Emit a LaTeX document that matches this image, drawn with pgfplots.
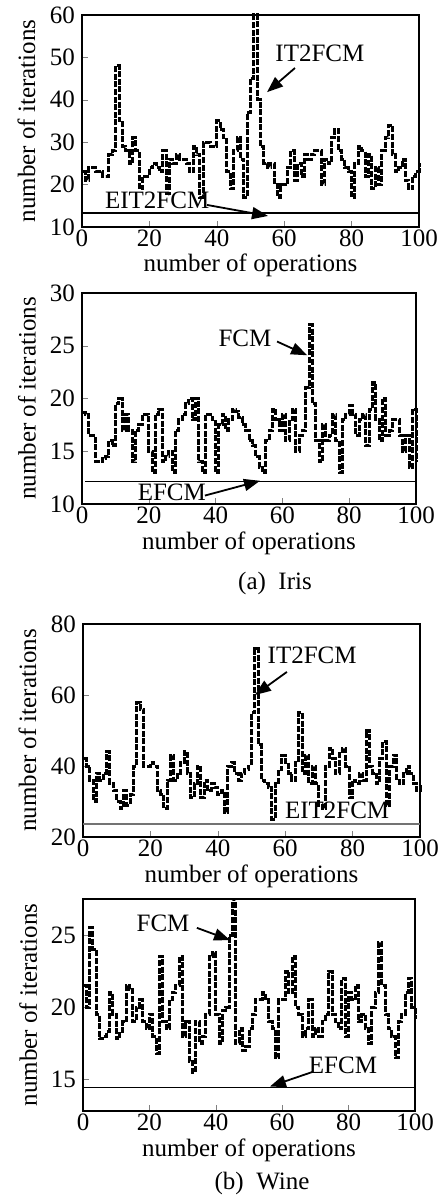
\documentclass[border=0pt]{standalone}
\usepackage{fontspec}
\setmainfont{Liberation Serif}
\usepackage{pgfplots}
\pgfplotsset{compat=1.18}
\usetikzlibrary{arrows.meta}

% iteration counts per run
\pgfplotstableread{
x y
0 23
1 21
2 24
3 24
4 23
5 23
6 22
7 22
8 27
9 28
10 48
11 35
12 29
13 28
14 25
15 31
16 28
17 19
18 22
19 22
20 24
21 25
22 24
23 23
24 28
25 18
26 26
27 25
28 27
29 26
30 26
31 25
32 23
33 29
34 27
35 17
36 30
37 30
38 29
39 29
40 35
41 33
42 31
43 23
44 19
45 28
46 31
47 26
48 17
49 37
50 45
51 60
52 40
53 29
54 25
55 24
56 25
57 20
58 17
59 20
60 20
61 24
62 28
63 21
64 25
65 22
66 27
67 26
68 27
69 28
70 28
71 20
72 26
73 25
74 31
75 33
76 28
77 26
78 24
79 23
80 17
81 25
82 29
83 28
84 22
85 27
86 19
87 24
88 20
89 28
90 31
91 34
92 27
93 23
94 24
95 26
96 21
97 19
98 22
99 23
100 25
}\irisit

\pgfplotstableread{
x y
0 18.7
1 18.5
2 16.5
3 16.5
4 14
5 14
6 14.3
7 14.5
8 16
9 15.5
10 19.5
11 20
12 17
13 18.5
14 17
15 14
16 17
17 17.5
18 18.5
19 18.5
20 15
21 13
22 18.5
23 19
24 14
25 14.5
26 15
27 13
28 17
29 18
30 18.5
31 19.5
32 20
33 18
34 20
35 14
36 13
37 18.5
38 18.5
39 18
40 13
41 17.5
42 18.5
43 17
44 18
45 19
46 18.8
47 18.2
48 17.5
49 17
50 16
51 15.5
52 14.5
53 13.5
54 13
55 16
56 17
57 19
58 18
59 17
60 18.5
61 16
62 18
63 19
64 15
65 16.5
66 17
67 21
68 27
69 19.5
70 16
71 14
72 17.5
73 16
74 16.5
75 18.5
76 16
77 13
78 18
79 18.5
80 19.3
81 18.5
82 16.5
83 18
84 18.5
85 15.5
86 19
87 21.5
88 18
89 16
90 20
91 16.5
92 17
93 18
94 18
95 16.5
96 15
97 16.5
98 13.5
99 19
100 14
}\irisfcm

\pgfplotstableread{
x y
0 42
1 40
2 36
3 30
4 38
5 36
6 38
7 44
8 35
9 33
10 30
11 28
12 33
13 29
14 32
15 40
16 58
17 56
18 40
19 40
20 41
21 40
22 33
23 32
24 28
25 36
26 43
27 36
28 38
29 41
30 44
31 38
32 31
33 35
34 40
35 31
36 36
37 33
38 35
39 34
40 32
41 33
42 27
43 40
44 41
45 38
46 36
47 38
48 39
49 40
50 55
51 73
52 46
53 36
54 35
55 34
56 25
57 35
58 39
59 43
60 41
61 38
62 36
63 41
64 55
65 38
66 43
67 35
68 40
69 35
70 29
71 28
72 40
73 45
74 42
75 38
76 44
77 45
78 40
79 31
80 36
81 35
82 38
83 36
84 50
85 40
86 38
87 35
88 42
89 47
90 29
91 40
92 43
93 36
94 35
95 38
96 40
97 38
98 35
99 33
100 35
}\wineit

\pgfplotstableread{
x y
0 21.5
1 20
2 25.5
3 24
4 19.5
5 17.8
6 18
7 18.3
8 21
9 19.5
10 17.8
11 18.3
12 19
13 21.5
14 21.2
15 19
16 20
17 20.5
18 19
19 18.5
20 19.5
21 18
22 16.8
23 23.5
24 19
25 18.5
26 20.5
27 21
28 21.5
29 23.5
30 18
31 19
32 16.2
33 15.5
34 19
35 17.5
36 18
37 19.5
38 23.5
39 23.8
40 19.5
41 17.5
42 19.8
43 20
44 25
45 27.5
46 17.5
47 18.5
48 17
49 17.3
50 18.5
51 19.5
52 20.5
53 20.5
54 21
55 20.5
56 19
57 18.5
58 16.5
59 20.5
60 20.5
61 22.5
62 21
63 23.5
64 20
65 19.5
66 18
67 18.5
68 20.5
69 18
70 18.5
71 18
72 19
73 19.5
74 22.5
75 19.5
76 19
77 18.5
78 22
79 18
80 21
81 20.5
82 21.5
83 19
84 19.5
85 18.5
86 17.5
87 20
88 21
89 24.5
90 21.5
91 19.5
92 18.5
93 18
94 16.5
95 19
96 19.5
97 21
98 22
99 20
100 19.2
}\winefcm

\pgfplotsset{
  panel/.style={
    scale only axis,
    anchor=north west,
    xmin=0, xmax=100,
    xtick={0,20,...,100},
    tick align=inside,
    tick pos=left,
    major tick length=3pt,
    axis line style={line width=0.9pt, black},
    font=\fontsize{12.5}{14}\selectfont,
    /pgf/number format/assume math mode=true,
    xticklabel style={inner sep=1pt},
    xlabel={number of operations},
    ylabel={number of iterations},
    xlabel style={at={(axis description cs:0.5,0)}, anchor=north, inner sep=0pt, yshift=-13.5pt},
    ylabel style={at={(axis description cs:-0.165,0.5)}, anchor=center, inner sep=0pt},
    clip=false,
  },
  runs/.style={const plot, black, line width=1.5pt, dash pattern=on 3pt off 0.8pt},
  base/.style={black, line width=0.6pt},
}
\tikzset{
  lbl/.style={font=\fontsize{12.5}{14}\selectfont},
  arr/.style={-{Triangle[length=8pt,width=6pt]}, line width=0.9pt},
}

\begin{document}
\begin{tikzpicture}
\path[use as bounding box] (0,0) rectangle (222pt,-599pt);

\begin{axis}[panel, at={(41pt,-7.5pt)}, width=168.5pt, height=106pt,
  ymin=10, ymax=60, ytick={10,20,...,60}]
\addplot[runs] table[x=x,y=y] {\irisit};
\addplot[base] coordinates {(0,13.3) (100,13.3)};
\node[lbl] at (axis cs:70.6,51) {IT2FCM};
\draw[arr] (axis cs:63.2,47.5) -- (axis cs:54.9,41.8);
\node[lbl] at (axis cs:22.3,16.4) {EIT2FCM};
\draw[arr] (axis cs:37.1,15.2) -- (axis cs:55.2,12.6);
\end{axis}

\begin{axis}[panel, at={(41pt,-146.5pt)}, width=167pt, height=105.5pt,
  ymin=10, ymax=30, ytick={10,15,...,30}]
\addplot[runs] table[x=x,y=y] {\irisfcm};
\addplot[base] coordinates {(1,12.1) (100,12.1)};
\node[lbl] at (axis cs:48.8,25.7) {FCM};
\draw[arr] (axis cs:58.4,25.4) -- (axis cs:67.4,24.1);
\node[lbl] at (axis cs:26.9,11.1) {EFCM};
\draw[arr] (axis cs:36.8,10.8) -- (axis cs:53.3,12.2);
\end{axis}

\node[lbl] at (137.5pt,-291.5pt) {(a)\enspace Iris};

\begin{axis}[panel, at={(41.5pt,-312pt)}, width=168.5pt, height=106.5pt,
  ymin=20, ymax=80, ytick={20,40,...,80}]
\addplot[runs] table[x=x,y=y] {\wineit};
\addplot[black!55, line width=0.7pt] coordinates {(0,23.7) (100,23.7)};
\node[lbl] at (axis cs:68,71.3) {IT2FCM};
\draw[arr] (axis cs:60.5,66.5) -- (axis cs:51,60);
\node[lbl] at (axis cs:75.4,27.6) {EIT2FCM};
\end{axis}

\begin{axis}[panel, at={(41.5pt,-449.5pt)}, width=166pt, height=106pt,
  ymin=12.8, ymax=27.5, ytick={15,20,25}]
\addplot[runs] table[x=x,y=y] {\winefcm};
\addplot[base] coordinates {(0,14.45) (100,14.45)};
\node[lbl] at (axis cs:24.1,25.8) {FCM};
\draw[arr] (axis cs:34.3,25.5) -- (axis cs:44.3,24.65);
\node[lbl] at (axis cs:78.3,16.0) {EFCM};
\draw[arr] (axis cs:69,15.5) -- (axis cs:56.3,14.5);
\end{axis}

\node[lbl] at (131pt,-591.5pt) {(b)\enspace Wine};
\end{tikzpicture}
\end{document}
